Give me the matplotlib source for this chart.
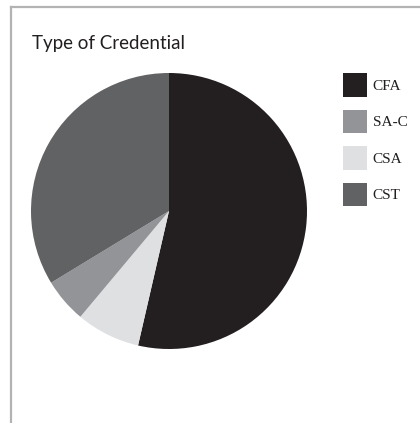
import matplotlib.pyplot as plt
from matplotlib.lines import Line2D

# credential shares, clockwise from 12 o'clock
labels = ["CFA", "CSA", "SA-C", "CST"]
shares = [53.6, 7.5, 5.2, 33.7]
colors = ["#231f20", "#dfe0e2", "#929497", "#616264"]
legend_order = ["CFA", "SA-C", "CSA", "CST"]

W, H = 420, 423
fig = plt.figure(figsize=(W / 100, H / 100), dpi=100)

# frame lines (left and top only)
gray = "#b3b3b3"
fig.add_artist(Line2D([11 / W, 11 / W], [0, 1 - 7 / H], color=gray, lw=1.6,
                      transform=fig.transFigure))
fig.add_artist(Line2D([11 / W, 1], [1 - 7 / H, 1 - 7 / H], color=gray, lw=1.6,
                      transform=fig.transFigure))

fig.text(32 / W, 1 - 43 / H, "Type of Credential", fontsize=13.5,
         family="Lato", color="#231f20", va="center", ha="left")

cx, cy, r = 169, 211, 138
ax = fig.add_axes([(cx - r) / W, (H - cy - r) / H, 2 * r / W, 2 * r / H])
wedges, _ = ax.pie(shares, colors=colors, startangle=90, counterclock=False,
                   wedgeprops=dict(linewidth=0))
ax.set_xlim(-1, 1)
ax.set_ylim(-1, 1)
ax.set_aspect("equal")
ax.axis("off")

handles = [wedges[labels.index(l)] for l in legend_order]
fig.legend(handles, legend_order, loc="upper left",
           bbox_to_anchor=(342.7 / W, 1 - 73 / H), frameon=False,
           prop=dict(family="Liberation Serif", size=11),
           handlelength=1.57, handleheight=2.0, handletextpad=0.4,
           labelspacing=0.85, borderpad=0, borderaxespad=0,
           labelcolor="#231f20")

fig.savefig("out.png", dpi=100)
